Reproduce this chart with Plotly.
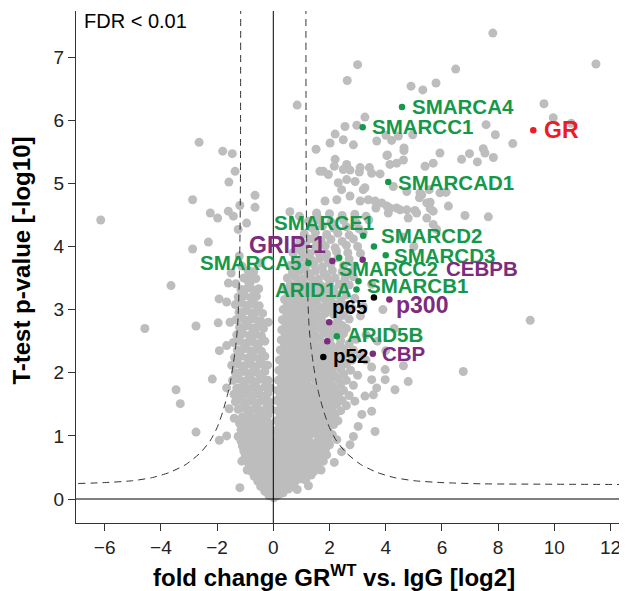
import plotly.graph_objects as go

# ---------------- data (fold change [log2], -log10 p) ----------------
right_core = [
(0.02,0.02),(0.12,0.05),(0.08,0.1),(0.22,0.08),(0.35,0.1),
(0.05,0.15),(0.2,0.17),(0.38,0.14),(0.55,0.16),(0.85,0.15),
(0.1,0.22),(0.28,0.24),(0.45,0.21),(0.62,0.23),(1.25,0.21),
(0.08,0.3),(0.25,0.32),(0.42,0.29),(0.6,0.31),(0.78,0.28),(0.98,0.32),(1.15,0.3),
(0.12,0.38),(0.3,0.4),(0.5,0.37),(0.7,0.39),(0.9,0.36),(1.08,0.4),(1.35,0.38),
(0.05,0.45),(0.22,0.47),(0.4,0.44),(0.6,0.46),(0.82,0.43),(1.0,0.47),(1.2,0.45),(1.45,0.44),(1.7,0.46),
(0.15,0.53),(0.35,0.55),(0.55,0.52),(0.75,0.54),(0.95,0.51),(1.15,0.55),(1.38,0.53),(1.6,0.52),
(0.08,0.6),(0.28,0.62),(0.48,0.59),(0.68,0.61),(0.9,0.6),(1.1,0.63),(1.3,0.59),(1.52,0.61),(1.78,0.6),(2.17,0.58),
(0.18,0.68),(0.4,0.7),(0.62,0.67),(0.85,0.69),(1.05,0.66),(1.25,0.7),(1.48,0.68),(1.7,0.67),(1.9,0.7),
(0.1,0.76),(0.3,0.78),(0.52,0.75),(0.75,0.77),(0.98,0.74),(1.2,0.78),(1.42,0.76),(1.62,0.75),(1.85,0.78),(2.43,0.75),
(0.2,0.84),(0.45,0.86),(0.68,0.83),(0.9,0.85),(1.12,0.82),(1.35,0.86),(1.58,0.84),(1.8,0.83),(2.0,0.86),(2.73,0.86),
(0.08,0.92),(0.3,0.94),(0.55,0.91),(0.8,0.93),(1.02,0.9),(1.25,0.94),(1.54,0.9),(1.72,0.93),(1.95,0.91),(2.26,0.94),
(0.18,1.0),(0.42,1.02),(0.65,0.99),(0.88,1.01),(1.1,0.98),(1.32,1.02),(1.6,1.0),(1.85,0.99),(2.1,1.02),(2.85,0.99),
(0.1,1.08),(0.32,1.1),(0.55,1.07),(0.78,1.09),(1.0,1.06),(1.22,1.1),(1.45,1.08),(1.7,1.07),(1.95,1.1),(3.62,1.07),
(0.22,1.16),(0.45,1.18),(0.7,1.15),(0.92,1.17),(1.15,1.14),(1.38,1.18),(1.62,1.16),(1.88,1.15),(2.15,1.18),(3.02,1.15),
(0.12,1.24),(0.35,1.26),(0.6,1.23),(0.82,1.25),(1.05,1.22),(1.3,1.26),(1.52,1.24),(1.78,1.23),(2.02,1.26),(2.3,1.24),
(0.25,1.32),(0.48,1.34),(0.72,1.31),(0.95,1.33),(1.2,1.3),(1.42,1.34),(1.68,1.32),(1.92,1.31),(2.2,1.34),(3.15,1.34),
(0.15,1.4),(0.38,1.42),(0.62,1.39),(0.85,1.41),(1.1,1.38),(1.35,1.42),(1.58,1.4),(1.82,1.39),(2.08,1.42),(2.4,1.4),(3.5,1.39),
(0.28,1.48),(0.52,1.5),(0.75,1.47),(1.0,1.49),(1.25,1.46),(1.48,1.5),(1.72,1.48),(1.98,1.47),(2.25,1.5),(2.6,1.48),
(0.12,1.56),(0.4,1.58),(0.65,1.55),(0.9,1.57),(1.15,1.54),(1.38,1.58),(1.62,1.56),(1.9,1.55),(2.15,1.58),(2.45,1.56),(2.9,1.55),
(0.25,1.64),(0.5,1.66),(0.78,1.63),(1.02,1.65),(1.28,1.62),(1.52,1.66),(1.78,1.64),(2.05,1.63),(2.32,1.66),(2.7,1.64),(3.26,1.63),(3.56,1.65),
(0.15,1.72),(0.4,1.74),(0.65,1.71),(0.9,1.73),(1.15,1.7),(1.4,1.74),(1.68,1.72),(1.95,1.71),(2.2,1.74),(2.5,1.72),(3.68,1.76),(4.33,1.73),
(0.3,1.8),(0.55,1.82),(0.8,1.79),(1.05,1.81),(1.3,1.78),(1.58,1.82),(1.85,1.8),(2.1,1.79),(2.4,1.82),(2.85,1.8),
(0.18,1.88),(0.45,1.9),(0.7,1.87),(0.95,1.89),(1.2,1.86),(1.48,1.9),(1.75,1.88),(2.0,1.87),(2.3,1.9),(2.6,1.88),(3.5,1.89),(3.98,1.89),(4.8,1.86),
(0.32,1.96),(0.58,1.98),(0.85,1.95),(1.1,1.97),(1.38,1.94),(1.65,1.98),(1.92,1.96),(2.2,1.95),(2.5,1.98),(3.0,1.96),
(0.2,2.04),(0.48,2.06),(0.75,2.03),(1.0,2.05),(1.28,2.02),(1.55,2.06),(1.82,2.04),(2.1,2.03),(2.4,2.06),(2.75,2.04),(3.98,2.05),(6.76,2.02),
(0.35,2.12),(0.62,2.14),(0.9,2.11),(1.18,2.13),(1.45,2.1),(1.72,2.14),(2.0,2.12),(2.3,2.11),(2.6,2.14),(3.5,2.09),(4.63,2.11),
(0.22,2.2),(0.5,2.22),(0.78,2.19),(1.05,2.21),(1.32,2.18),(1.6,2.22),(1.88,2.2),(2.15,2.19),(2.45,2.22),(2.8,2.2),(3.3,2.2),
(0.38,2.28),(0.65,2.3),(0.92,2.27),(1.2,2.29),(1.48,2.26),(1.75,2.3),(2.05,2.28),(2.35,2.27),(2.65,2.3),(3.1,2.28),(4.0,2.35),
(0.25,2.36),(0.52,2.38),(0.8,2.35),(1.08,2.37),(1.35,2.34),(1.62,2.38),(1.9,2.36),(2.2,2.35),(2.5,2.38),(2.85,2.36),
(0.4,2.44),(0.68,2.46),(0.95,2.43),(1.22,2.45),(1.5,2.42),(1.78,2.46),(2.05,2.44),(2.35,2.43),(2.7,2.46),(3.7,2.5),
(0.28,2.52),(0.55,2.54),(0.82,2.51),(1.1,2.53),(1.38,2.5),(1.65,2.54),(2.0,2.52),(2.4,2.51),(2.95,2.53),
(0.42,2.6),(0.7,2.62),(0.98,2.59),(1.25,2.61),(1.52,2.58),(1.8,2.62),(2.1,2.6),(2.5,2.62),(3.3,2.6),
(0.3,2.68),(0.58,2.7),(0.85,2.67),(1.12,2.69),(1.4,2.66),(1.68,2.7),(1.95,2.68),(2.25,2.67),(2.6,2.7),(4.3,2.7),
(0.45,2.76),(0.72,2.78),(1.0,2.75),(1.28,2.77),(1.55,2.74),(1.82,2.78),(2.15,2.76),(2.45,2.75),
(0.32,2.84),(0.6,2.86),(0.88,2.83),(1.15,2.85),(1.42,2.82),(1.7,2.86),(2.3,2.84),(2.7,2.85),(3.1,2.9),
(0.48,2.92),(0.75,2.94),(1.02,2.91),(1.3,2.93),(1.58,2.9),(1.85,2.94),(2.15,2.92),(2.5,2.91),
(0.35,3.0),(0.62,3.02),(0.9,2.99),(1.18,3.01),(1.45,2.98),(1.72,3.02),(2.0,3.0),(2.35,2.99),(2.8,3.02),(3.9,3.0),
(0.5,3.08),(0.78,3.1),(1.05,3.07),(1.32,3.09),(1.6,3.06),(1.9,3.1),(2.2,3.08),(2.55,3.07),
(0.4,3.16),(0.68,3.18),(0.95,3.15),(1.22,3.17),(1.5,3.14),(1.78,3.18),(2.05,3.16),(2.4,3.15),(2.9,3.18),
(0.55,3.24),(0.82,3.26),(1.1,3.23),(1.38,3.25),(1.65,3.22),(1.95,3.26),(2.25,3.24),(2.6,3.23),
(0.45,3.32),(0.72,3.34),(1.0,3.31),(1.28,3.33),(1.55,3.3),(1.85,3.34),(2.15,3.32),(2.5,3.31),
(0.6,3.4),(0.88,3.42),(1.15,3.39),(1.42,3.41),(1.7,3.38),(2.0,3.42),(2.35,3.4),(2.7,3.39),
(0.5,3.5),(0.78,3.52),(1.05,3.49),(1.32,3.51),(1.6,3.48),(1.9,3.52),(2.2,3.5),(2.55,3.49),(2.85,3.52),
(0.68,3.6),(0.95,3.62),(1.22,3.59),(1.5,3.61),(1.8,3.58),(2.1,3.62),(2.45,3.6),(2.75,3.59),
(0.6,3.7),(0.88,3.72),(1.15,3.69),(1.45,3.71),(1.75,3.68),(2.05,3.72),(2.5,3.7),(2.9,3.69),
(0.78,3.8),(1.05,3.82),(1.35,3.79),(1.65,3.81),(1.95,3.78),(2.3,3.82),(2.7,3.8),
(0.7,3.9),(1.0,3.92),(1.3,3.89),(1.6,3.91),(1.9,3.88),(2.25,3.92),(2.65,3.9),(3.1,3.89),
(0.85,4.0),(1.15,4.02),(1.5,3.99),(1.85,4.01),(2.2,3.98),(2.6,4.02),(3.0,4.0),
(0.95,4.1),(1.3,4.12),(1.7,4.09),(2.05,4.11),(2.45,4.08),(2.85,4.12),(1.48,4.11),
(1.1,4.2),(1.5,4.22),(1.9,4.19),(2.3,4.21),(2.7,4.18),(3.2,4.22),
(1.35,4.3),(1.75,4.32),(2.15,4.29),(2.6,4.31),(3.05,4.28),
(1.25,4.4),(1.65,4.42),(2.05,4.39),(2.5,4.41),(2.95,4.38),(3.4,4.42),
(1.55,4.5),(2.0,4.52),(2.45,4.49),(2.9,4.51),(3.3,4.48),
]

left_core = [
(-0.15,0.05),(-0.05,0.08),(-0.3,0.12),(-0.12,0.14),
(-0.45,0.2),(-0.28,0.22),(-0.1,0.19),(-1.19,0.18),
(-0.55,0.28),(-0.38,0.3),(-0.2,0.27),(-0.05,0.29),
(-0.68,0.36),(-0.5,0.38),(-0.32,0.35),(-0.15,0.37),
(-0.78,0.44),(-0.6,0.46),(-0.42,0.43),(-0.25,0.45),(-0.08,0.44),(-0.93,0.46),
(-0.85,0.52),(-0.68,0.54),(-0.5,0.51),(-0.32,0.53),(-0.15,0.52),
(-1.12,0.6),(-0.95,0.6),(-0.78,0.62),(-0.6,0.59),(-0.42,0.61),(-0.25,0.6),(-0.08,0.62),
(-1.0,0.68),(-0.82,0.7),(-0.65,0.67),(-0.48,0.69),(-0.3,0.66),(-0.12,0.7),
(-1.05,0.76),(-0.88,0.78),(-0.7,0.75),(-0.52,0.77),(-0.35,0.74),(-0.18,0.78),
(-1.1,0.84),(-0.92,0.86),(-0.75,0.83),(-0.58,0.85),(-0.4,0.82),(-0.22,0.86),(-0.06,0.84),
(-1.15,0.92),(-0.98,0.94),(-0.8,0.91),(-0.62,0.93),(-0.45,0.9),(-0.28,0.94),(-0.1,0.92),
(-1.25,0.99),(-1.05,1.02),(-0.88,0.99),(-0.7,1.01),(-0.52,0.98),(-0.35,1.02),(-0.15,1.0),
(-1.15,1.1),(-0.95,1.12),(-0.78,1.09),(-0.6,1.11),(-0.42,1.08),(-0.25,1.12),(-0.08,1.1),
(-1.2,1.2),(-1.02,1.22),(-0.85,1.19),(-0.68,1.21),(-0.5,1.18),(-0.32,1.22),(-0.15,1.2),
(-1.39,1.28),(-1.1,1.3),(-0.92,1.32),(-0.75,1.29),(-0.55,1.31),(-0.38,1.28),(-0.2,1.32),
(-1.57,1.43),(-1.25,1.42),(-1.05,1.44),(-0.85,1.41),(-0.65,1.43),(-0.45,1.4),(-0.25,1.44),(-0.08,1.42),
(-1.35,1.54),(-1.15,1.56),(-0.95,1.53),(-0.75,1.55),(-0.55,1.52),(-0.35,1.56),(-0.15,1.54),
(-1.18,1.65),(-1.4,1.66),(-1.0,1.67),(-0.8,1.64),(-0.6,1.66),(-0.4,1.63),(-0.2,1.67),
(-1.66,1.76),(-1.3,1.76),(-1.1,1.78),(-0.9,1.75),(-0.7,1.77),(-0.5,1.74),(-0.3,1.78),(-0.1,1.76),
(-1.45,1.88),(-1.22,1.9),(-1.0,1.87),(-0.8,1.89),(-0.6,1.86),(-0.38,1.9),(-0.18,1.88),
(-1.35,2.0),(-1.12,2.02),(-0.9,1.99),(-0.7,2.01),(-0.5,1.98),(-0.3,2.02),
(-1.48,2.12),(-1.25,2.14),(-1.02,2.11),(-0.8,2.13),(-0.6,2.1),(-0.4,2.14),(-0.2,2.12),
(-1.38,2.24),(-1.15,2.26),(-0.92,2.23),(-0.7,2.25),(-0.5,2.22),(-0.3,2.26),
(-1.28,2.36),(-1.05,2.38),(-0.82,2.35),(-0.6,2.37),(-0.42,2.34),
(-1.42,2.48),(-1.18,2.5),(-0.95,2.47),(-0.72,2.49),(-0.52,2.46),(-0.3,2.5),
(-1.3,2.6),(-1.08,2.62),(-0.85,2.59),(-0.62,2.61),(-0.42,2.58),
(-1.2,2.72),(-0.98,2.74),(-0.75,2.71),(-0.55,2.73),(-0.35,2.7),(-0.18,2.8),
(-1.32,2.84),(-1.1,2.86),(-0.88,2.83),(-0.65,2.85),(-0.45,2.82),
(-1.22,2.96),(-1.0,2.98),(-0.78,2.95),(-0.58,2.97),(-0.38,2.94),
(-1.35,3.08),(-1.12,3.1),(-0.9,3.07),(-0.68,3.09),(-0.5,3.06),
(-1.25,3.2),(-1.02,3.22),(-0.8,3.19),(-0.6,3.21),
(-1.15,3.32),(-0.92,3.34),(-0.7,3.31),(-0.52,3.33),
(-1.05,3.5),(-0.82,3.52),(-0.62,3.49),
(-0.9,3.62),(-0.7,3.6),
]

left_sparse = [
(-6.14,4.42),(-4.57,2.70),(-3.64,3.38),(-3.46,1.73),(-3.31,1.51),(-2.75,2.74),(-2.75,1.06),
(-2.17,1.90),(-1.92,0.93),(-1.66,1.0),(-1.92,2.35),(-1.66,2.43),(-1.96,2.79),(-1.54,2.80),
(-1.93,3.17),(-1.66,3.12),(-1.60,3.42),(-1.33,3.41),(-0.89,3.45),(-0.83,3.42),(-1.5,3.58),
(-1.12,3.69),(-0.47,3.74),(-1.21,3.85),(-2.87,3.96),(-2.31,4.07),(-1.25,4.27),(-0.95,4.37),
(-1.42,4.48),(-1.98,4.45),(-1.60,4.56),(-2.24,4.53),(-1.19,4.65),(-0.65,4.62),(-0.65,4.81),
(-2.87,4.74),(-1.58,5.02),(-1.36,5.19),(-1.46,5.47),(-1.80,5.51),(-2.64,5.65),
]

upper_sparse = [
(0.85,6.24),(1.52,5.54),(1.66,5.19),(0.59,4.55),(1.54,4.53),(0.93,4.48),(1.48,4.11),
(3.0,6.88),(2.63,6.63),(4.90,6.54),(5.32,6.48),(5.79,6.59),(6.49,6.81),(7.81,7.38),(11.48,6.89),
(3.26,6.05),(2.97,5.92),(2.55,5.90),(2.20,5.78),(4.01,5.76),(4.45,5.75),(4.96,5.77),
(9.63,6.26),(9.96,6.04),(10.6,5.95),
(7.57,5.93),(7.90,5.77),(8.52,5.63),(5.93,5.48),(6.98,5.47),(6.70,5.38),(7.26,5.34),(7.47,5.55),(7.53,5.48),(7.83,5.41),
(6.15,4.86),(5.58,4.70),(5.69,4.56),(6.23,4.64),(6.82,4.49),(7.65,4.47),(5.28,4.82),(5.55,4.90),
(2.49,5.69),(2.02,5.64),(2.85,5.61),(3.68,5.67),(4.21,5.68),(3.09,5.25),(4.04,5.44),(4.15,5.30),(4.39,5.32),(5.40,5.27),(5.69,5.32),
(2.31,5.01),(2.61,5.06),(2.91,5.03),(3.26,4.93),(4.27,4.95),(4.75,4.87),(5.22,4.85),(1.84,4.72),(2.26,4.74),(2.73,4.80),
(3.09,4.72),(3.62,4.72),(4.04,4.64),(4.39,4.61),(4.75,4.58),(5.10,4.53),
(2.43,4.90),(3.20,4.90),(3.38,4.74),(3.86,4.69),(3.65,4.61),(4.15,4.61),(4.51,4.58),(4.80,4.45),(4.09,4.53),(5.04,4.57),
(5.69,4.35),(5.46,4.45),(5.81,4.27),(5.20,4.77),(5.93,4.85),(6.13,4.86),(5.46,4.69),(5.58,4.60),
(4.06,5.45),(4.65,5.52),(4.63,5.37),(3.42,5.25),(3.06,5.18),(3.50,5.16),(3.80,5.15),(2.2,5.38),(2.17,5.27),
(2.61,5.30),(2.73,5.21),(2.49,5.22),(1.78,5.19),(1.96,5.14),(4.65,5.56),
(4.6,4.15),(5.0,4.0),(3.5,3.4),(3.2,3.05),(9.14,2.83),
]

# highlighted proteins: name, fold change, -log10 p, group
hl_names = ["GR","SMARCA4","SMARCC1","SMARCAD1","SMARCE1","SMARCD2","SMARCD3","SMARCA5",
            "SMARCC2","GRIP-1","CEBPB","SMARCB1","ARID1A","p65","p300","unlabeled1","ARID5B",
            "unlabeled2","p52","CBP"]
hl_fc = [9.25,4.58,3.18,4.09,3.20,3.58,4.00,1.25,2.34,2.10,3.18,3.03,2.96,3.58,4.13,1.99,2.26,1.92,1.78,3.54]
hl_p = [5.84,6.21,5.89,5.02,4.17,4.00,3.86,3.74,3.82,3.77,3.79,3.45,3.32,3.19,3.16,2.80,2.58,2.50,2.25,2.30]
hl_group = ["GR","SWI","SWI","SWI","SWI","SWI","SWI","SWI","SWI","CO","CO","SWI","SWI","NFKB","CO","CO","SWI","CO","NFKB","CO"]

# labels: text, x, y, group, size, anchor
lab_text = ["SMARCA4","SMARCC1","SMARCAD1","GR","SMARCE1","SMARCD2","SMARCD3","GRIP-1","SMARCA5",
            "SMARCC2","CEBPB","SMARCB1","ARID1A","p65","p300","ARID5B","p52","CBP"]
lab_x = [4.90,3.47,4.41,9.61,3.62,3.80,4.25,1.91,1.01,2.31,6.12,3.29,2.83,3.38,4.33,2.59,2.08,3.82]
lab_y = [6.21,5.90,5.02,5.85,4.38,4.17,3.86,4.03,3.74,3.65,3.65,3.38,3.32,3.05,3.07,2.61,2.27,2.31]
lab_group = ["SWI","SWI","SWI","GR","SWI","SWI","SWI","CO","SWI","SWI","CO","SWI","SWI","NFKB","CO","SWI","NFKB","CO"]
lab_size = [20.5,20.5,20.5,23,20.5,20.5,20.5,23,20.5,20,20.5,20.5,20.5,20.5,23,20.5,20.5,20.5]
lab_anchor = ["left","left","left","left","right","left","left","right","right",
              "left","left","left","right","right","left","left","left","left"]

# FDR threshold curve (|fold change|, -log10 p)
curve_abs_fc = [1.16,1.17,1.19,1.22,1.27,1.33,1.42,1.54,1.66,1.8,2.0,2.25,2.6,3.1,3.7,4.3,5.0,6.0,7.5,9.5,12.4]
curve_p = [7.8,5.0,4.0,3.3,2.75,2.45,2.15,1.82,1.6,1.38,1.13,0.92,0.73,0.55,0.42,0.34,0.29,0.26,0.24,0.235,0.23]

x_ticks = [-6,-4,-2,0,2,4,6,8,10,12]
y_ticks = [0,1,2,3,4,5,6,7]

# ---------------- styling ----------------
colors = {"GR": "#ec1c24", "SWI": "#16984a", "CO": "#7c2b7e", "NFKB": "#000000"}
FONT = "Arial, 'Liberation Sans', sans-serif"
GRAY = "#bdbdbd"

gray_all = right_core + left_core + left_sparse + upper_sparse

fig = go.Figure()
fig.add_trace(go.Scatter(
    x=[p[0] for p in gray_all], y=[p[1] for p in gray_all], mode="markers",
    marker=dict(color=GRAY, size=9, line=dict(width=0)), hoverinfo="skip", showlegend=False))

fig.add_trace(go.Scatter(x=curve_abs_fc, y=curve_p, mode="lines",
    line=dict(color="#333333", width=1, dash="7px,5px", shape="spline", smoothing=0.6),
    showlegend=False, hoverinfo="skip"))
fig.add_trace(go.Scatter(x=[-v for v in curve_abs_fc], y=curve_p, mode="lines",
    line=dict(color="#333333", width=1, dash="7px,5px", shape="spline", smoothing=0.6),
    showlegend=False, hoverinfo="skip"))

fig.add_trace(go.Scatter(x=hl_fc, y=hl_p, mode="markers",
    marker=dict(color=[colors[g] for g in hl_group], size=6.5, line=dict(width=0)),
    text=hl_names, showlegend=False))

for t, x, y, g, s, a in zip(lab_text, lab_x, lab_y, lab_group, lab_size, lab_anchor):
    fig.add_annotation(x=x, y=y, xref="x", yref="y", text=f"<b>{t}</b>", showarrow=False,
                       xanchor=a, yanchor="middle", borderpad=0,
                       font=dict(family=FONT, size=s, color=colors[g]))

fig.add_annotation(x=-6.78, y=7.57, xref="x", yref="y", text="FDR < 0.01", showarrow=False,
                   xanchor="left", yanchor="middle", borderpad=0,
                   font=dict(family=FONT, size=20, color="#000000"))

# axis titles
fig.add_annotation(x=0.475, y=-0.103, xref="paper", yref="paper",
                   text="<b>fold change GR<sup>WT</sup> vs. IgG [log2]</b>", showarrow=False,
                   xanchor="center", yanchor="middle", font=dict(family=FONT, size=24, color="#000"))
fig.add_annotation(x=-0.1, y=0.512, xref="paper", yref="paper", textangle=-90,
                   text="<b>T-test p-value [-log10]</b>", showarrow=False,
                   xanchor="center", yanchor="middle", font=dict(family=FONT, size=24, color="#000"))

# zero lines (drawn over the points)
fig.add_shape(type="line", xref="x", yref="paper", x0=0, x1=0, y0=0, y1=1,
              line=dict(color="#000", width=1), layer="above")
fig.add_shape(type="line", xref="paper", yref="y", x0=0, x1=1, y0=0, y1=0,
              line=dict(color="#000", width=1), layer="above")

axis_common = dict(showline=True, linecolor="#333333", linewidth=1.2, ticks="outside", ticklen=7,
                   tickwidth=1.2, tickcolor="#333333", showgrid=False, zeroline=False,
                   tickfont=dict(family=FONT, size=19, color="#222"))
fig.update_xaxes(range=[-7.02, 12.3], tickvals=x_ticks, **axis_common)
fig.update_yaxes(range=[-0.38, 7.73], tickvals=y_ticks, **axis_common)

# the page body adds an 8px offset, so the figure is 8px smaller than the window
fig.update_layout(width=619, height=583, margin=dict(l=68, r=8, t=3, b=68),
                  paper_bgcolor="white", plot_bgcolor="white", showlegend=False,
                  font=dict(family=FONT))

fig.write_html("out.html")
